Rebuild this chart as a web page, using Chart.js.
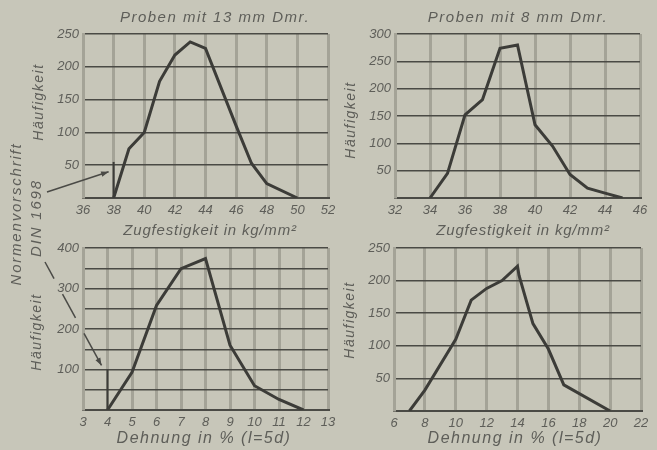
<!DOCTYPE html>
<html><head><meta charset="utf-8">
<script src="https://cdn.jsdelivr.net/npm/chart.js@4"></script>
<style>
html,body{margin:0;padding:0;background:#c7c6b9;width:657px;height:450px;overflow:hidden;position:relative;}
canvas{position:absolute;left:0;top:0;}
.t{position:absolute;font-family:'Liberation Sans',Arial,sans-serif;font-style:italic;color:#5e5e59;white-space:nowrap;transform:translate(-50%,-50%);}
.r{transform:translate(-50%,-50%) rotate(-90deg);}
</style></head><body>
<canvas id="c1" width="657" height="450"></canvas>
<canvas id="c2" width="657" height="450"></canvas>
<canvas id="c3" width="657" height="450"></canvas>
<canvas id="c4" width="657" height="450"></canvas>
<div class="t" style="left:215px;top:16px;font-size:15px;letter-spacing:1.5px">Proben mit 13 mm Dmr.</div>
<div class="t" style="left:518px;top:16px;font-size:15px;letter-spacing:1.5px">Proben mit 8 mm Dmr.</div>
<div class="t" style="left:210px;top:229px;font-size:15px;letter-spacing:0.8px">Zugfestigkeit in kg/mm²</div>
<div class="t" style="left:523px;top:229px;font-size:15px;letter-spacing:0.8px">Zugfestigkeit in kg/mm²</div>
<div class="t" style="left:204px;top:438px;font-size:16px;letter-spacing:1.5px">Dehnung in % (l=5d)</div>
<div class="t" style="left:515px;top:438px;font-size:16px;letter-spacing:1.5px">Dehnung in % (l=5d)</div>
<div class="t r" style="left:38px;top:102px;font-size:14px;letter-spacing:1.5px">Häufigkeit</div>
<div class="t r" style="left:350px;top:120px;font-size:14px;letter-spacing:1.5px">Häufigkeit</div>
<div class="t r" style="left:36px;top:332px;font-size:14px;letter-spacing:1.5px">Häufigkeit</div>
<div class="t r" style="left:349px;top:320px;font-size:14px;letter-spacing:1.5px">Häufigkeit</div>
<div class="t r" style="left:15px;top:214px;font-size:15px;letter-spacing:1.8px">Normenvorschrift</div>
<div class="t r" style="left:35px;top:218px;font-size:15px;letter-spacing:1.8px">DIN 1698</div>
<script>
// ---- data ----
const tlX = [38, 39, 40, 41, 42, 43, 44, 46, 47, 48, 50];
const tlY = [0, 75, 100, 178, 218, 238, 228, 110, 53, 22, 0];
const tlMarkX = [38, 38];
const tlMarkY = [0, 55];

const trX = [34, 35, 36, 37, 38, 39, 40, 41, 42, 43, 44, 45];
const trY = [0, 45, 152, 180, 274, 280, 134, 95, 43, 18, 9, 0];

const blX = [4, 5, 6, 7, 8, 9, 10, 11, 12];
const blY = [0, 93, 258, 349, 374, 160, 60, 26, 0];
const blMarkX = [4, 4];
const blMarkY = [0, 100];

const brX = [7, 8, 10, 11, 12, 13, 14, 14.1, 15, 16, 17, 20];
const brY = [0, 32, 110, 170, 188, 200, 222, 208, 134, 95, 40, 0];

const tlXTicks = [36, 52, 2], tlYTicks = [0, 250, 50];
const trXTicks = [32, 46, 2], trYTicks = [0, 300, 50];
const blXTicks = [3, 13, 1], blYTicks = [0, 400, 50];
const brXTicks = [6, 22, 2], brYTicks = [0, 250, 50];

const pts = (xs, ys) => xs.map((x, i) => ({x: x, y: ys[i]}));

const LINE = '#3c3c38';
const VGRID = '#a4a397';
const HGRID = '#4a4a45';
const TXT = '#5e5e59';
const FONT = {family: "'Liberation Sans', Arial, sans-serif", style: 'italic', size: 13};

function arrowHead(ctx, x0, y0, x1, y1) {
  const a = Math.atan2(y1 - y0, x1 - x0), L = 8;
  ctx.beginPath();
  ctx.moveTo(x1, y1);
  ctx.lineTo(x1 - L * Math.cos(a - 0.35), y1 - L * Math.sin(a - 0.35));
  ctx.lineTo(x1 - L * Math.cos(a + 0.35), y1 - L * Math.sin(a + 0.35));
  ctx.closePath();
  ctx.fill();
}

function make(id, data, mark, xt, yt, area, yLabelEvery, annot) {
  const ds = [{data: data, borderColor: LINE, borderWidth: 3, pointRadius: 0, tension: 0, fill: false}];
  if (mark) ds.push({data: mark, borderColor: LINE, borderWidth: 2, pointRadius: 0, tension: 0, fill: false});
  new Chart(document.getElementById(id), {
    type: 'line',
    data: {datasets: ds},
    options: {
      responsive: false, animation: false, devicePixelRatio: 1,
      layout: {padding: {left: area[0] - 40, top: area[1], right: 657 - area[2], bottom: 450 - area[3] - 30}},
      plugins: {legend: {display: false}, tooltip: {enabled: false}},
      scales: {
        x: {type: 'linear', min: xt[0], max: xt[1],
            ticks: {stepSize: xt[2], color: TXT, font: FONT, padding: 5, autoSkip: false, maxRotation: 0},
            grid: {color: VGRID, lineWidth: 3, drawTicks: false},
            border: {color: HGRID, width: 2},
            afterFit: s => { s.height = 30; }},
        y: {type: 'linear', min: yt[0], max: yt[1],
            ticks: {stepSize: yt[2], color: TXT, font: FONT, padding: 4,
                    callback: v => (v === 0 || v % yLabelEvery !== 0) ? '' : v},
            grid: {color: HGRID, lineWidth: 1.5, drawTicks: false},
            border: {color: VGRID, width: 3},
            afterFit: s => { s.width = 40; }}
      }
    },
    plugins: annot ? [{id: 'annot', afterDraw: annot}] : []
  });
}

make('c1', pts(tlX, tlY), pts(tlMarkX, tlMarkY), tlXTicks, tlYTicks, [83, 34, 328, 198], 50,
  chart => {
    const ctx = chart.ctx, xs = chart.scales.x, ys = chart.scales.y;
    const x1 = xs.getPixelForValue(tlMarkX[0]) - 5, y1 = ys.getPixelForValue(40);
    const x0 = 47, y0 = 192;
    ctx.save();
    ctx.strokeStyle = '#4a4a46'; ctx.fillStyle = '#4a4a46'; ctx.lineWidth = 1.5;
    ctx.beginPath(); ctx.moveTo(x0, y0); ctx.lineTo(x1, y1); ctx.stroke();
    arrowHead(ctx, x0, y0, x1, y1);
    ctx.restore();
  });
make('c2', pts(trX, trY), null, trXTicks, trYTicks, [395, 34, 640, 198], 50);
make('c3', pts(blX, blY), pts(blMarkX, blMarkY), blXTicks, blYTicks, [83, 248, 328, 410], 100,
  chart => {
    const ctx = chart.ctx, xs = chart.scales.x, ys = chart.scales.y;
    const x1 = xs.getPixelForValue(blMarkX[0]) - 6, y1 = ys.getPixelForValue(110);
    const x0 = 45, y0 = 262;
    ctx.save();
    ctx.strokeStyle = '#4a4a46'; ctx.fillStyle = '#4a4a46'; ctx.lineWidth = 1.5;
    [[0, 0.16], [0.31, 0.54], [0.69, 1]].forEach(([a, b]) => {
      ctx.beginPath();
      ctx.moveTo(x0 + (x1 - x0) * a, y0 + (y1 - y0) * a);
      ctx.lineTo(x0 + (x1 - x0) * b, y0 + (y1 - y0) * b);
      ctx.stroke();
    });
    arrowHead(ctx, x0, y0, x1, y1);
    ctx.restore();
  });
make('c4', pts(brX, brY), null, brXTicks, brYTicks, [394, 248, 641, 411], 50);
</script>
</body></html>
